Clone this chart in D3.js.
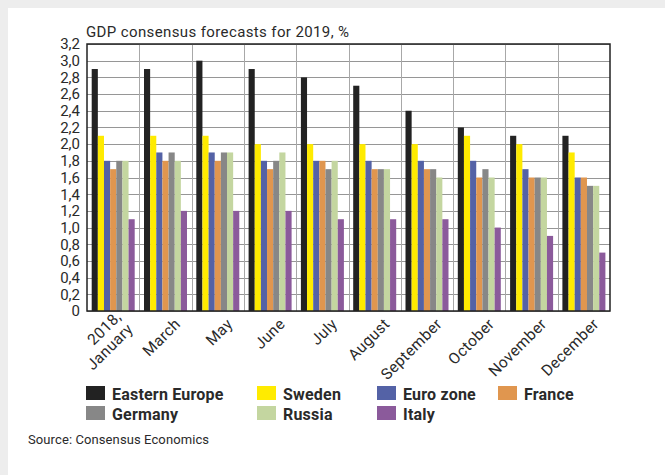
<!DOCTYPE html>
<html>
<head>
<meta charset="utf-8">
<script src="https://cdn.jsdelivr.net/npm/d3@7"></script>
<style>
  body { margin: 0; background: #ededed; }
  svg { display: block; }
  text { font-family: Roboto, "DejaVu Sans", sans-serif; fill: #2a2a2a; }
</style>
</head>
<body>
<svg id="chart" width="665" height="475"></svg>
<script>
"use strict";

// data
var categories = [["2018,", "January"], ["March"], ["May"], ["June"], ["July"],
	["August"], ["September"], ["October"], ["November"], ["December"]];
var seriesNames = ["Eastern Europe", "Sweden", "Euro zone", "France", "Germany", "Russia", "Italy"];
var seriesColors = ["#222222", "#ffeb00", "#5462a6", "#e0964f", "#878787", "#c4d6a0", "#8b5a9b"];

var easternEurope = [2.9, 2.9, 3.0, 2.9, 2.8, 2.7, 2.4, 2.2, 2.1, 2.1];
var sweden        = [2.1, 2.1, 2.1, 2.0, 2.0, 2.0, 2.0, 2.1, 2.0, 1.9];
var euroZone      = [1.8, 1.9, 1.9, 1.8, 1.8, 1.8, 1.8, 1.8, 1.7, 1.6];
var france        = [1.7, 1.8, 1.8, 1.7, 1.8, 1.7, 1.7, 1.6, 1.6, 1.6];
var germany       = [1.8, 1.9, 1.9, 1.8, 1.7, 1.7, 1.7, 1.7, 1.6, 1.5];
var russia        = [1.8, 1.8, 1.9, 1.9, 1.8, 1.7, 1.6, 1.6, 1.6, 1.5];
var italy         = [1.1, 1.2, 1.2, 1.2, 1.1, 1.1, 1.1, 1.0, 0.9, 0.7];
var seriesValues = [easternEurope, sweden, euroZone, france, germany, russia, italy];

var yTicks = [0, 0.2, 0.4, 0.6, 0.8, 1.0, 1.2, 1.4, 1.6, 1.8, 2.0, 2.2, 2.4, 2.6, 2.8, 3.0, 3.2];

var plotL = 87, plotR = 610, plotT = 44, plotB = 311;

var svg = d3.select("#chart");

// white panel on grey page
svg.append("rect").attr("x", 8).attr("y", 8).attr("width", 657).attr("height", 467).attr("fill", "#fff");

var x0 = d3.scaleBand().domain(d3.range(categories.length)).range([plotL, plotR]);
var x1 = d3.scaleBand().domain(d3.range(seriesNames.length)).range([4.7, x0.bandwidth() - 4.6]);
var y = d3.scaleLinear().domain([0, 3.2]).range([plotB, plotT]);

// grid
var grid = svg.append("g");
grid.selectAll(".hl").data(yTicks).enter().append("line")
	.attr("x1", plotL).attr("x2", plotR)
	.attr("y1", function(d){ return Math.round(y(d)) + 0.5; })
	.attr("y2", function(d){ return Math.round(y(d)) + 0.5; })
	.attr("stroke", "#969696").attr("stroke-width", 1);
grid.selectAll(".vl").data(d3.range(1, categories.length)).enter().append("line")
	.attr("x1", function(d){ return Math.round(x0(d)) + 0.5; })
	.attr("x2", function(d){ return Math.round(x0(d)) + 0.5; })
	.attr("y1", plotT).attr("y2", plotB)
	.attr("stroke", "#a8a8a8").attr("stroke-width", 1);

// bars
var groups = svg.selectAll(".grp").data(categories).enter().append("g")
	.attr("transform", function(d, i){ return "translate(" + x0(i) + ",0)"; });
groups.selectAll("rect").data(function(d, i){
		return seriesValues.map(function(s, k){ return {k: k, v: s[i]}; });
	}).enter().append("rect")
	.attr("x", function(d){ return x1(d.k); })
	.attr("width", x1.bandwidth())
	.attr("y", function(d){ return y(d.v); })
	.attr("height", function(d){ return y(0) - y(d.v); })
	.attr("fill", function(d){ return seriesColors[d.k]; });

// frame
svg.append("rect").attr("x", plotL).attr("y", plotT).attr("width", plotR - plotL).attr("height", plotB - plotT)
	.attr("fill", "none").attr("stroke", "#222").attr("stroke-width", 1.5);

// y axis labels
var yAxis = d3.axisLeft(y).tickValues(yTicks).tickSize(0).tickPadding(7)
	.tickFormat(function(d){ return d === 0 ? "0" : d.toFixed(1).replace(".", ","); });
var ya = svg.append("g").attr("transform", "translate(" + plotL + ",0)").call(yAxis);
ya.select(".domain").remove();
ya.selectAll("text").attr("font-size", 15).attr("fill", "#2a2a2a")
	.style("font-family", "Roboto, sans-serif");

// x labels
var xl = svg.selectAll(".xl").data(categories).enter().append("text")
	.attr("text-anchor", "end")
	.attr("font-size", 15.5)
	.attr("letter-spacing", 0.4)
	.attr("transform", function(d, i){
		var cx = x0(i) + x0.bandwidth() / 2 + 16;
		return "translate(" + cx + "," + (plotB + 14) + ") rotate(-45)";
	});
xl.selectAll("tspan").data(function(d){ return d; }).enter().append("tspan")
	.attr("x", 0)
	.attr("dy", function(d, j, nodes){
		if (j === 0) { return nodes.length > 1 ? "-0.65em" : 0; }
		return "1.1em";
	})
	.text(function(d){ return d; });

// title
svg.append("text").attr("x", 86).attr("y", 37).attr("font-size", 15).attr("letter-spacing", 0.38)
	.text("GDP consensus forecasts for 2019, %");

// legend
var legend = svg.append("g");
var colX = [86, 257, 377, 498];
var items = legend.selectAll("g").data(seriesNames).enter().append("g")
	.attr("transform", function(d, i){ return "translate(" + colX[i % 4] + "," + (386 + Math.floor(i / 4) * 20) + ")"; });
items.append("rect").attr("width", 19).attr("height", 14)
	.attr("fill", function(d, i){ return seriesColors[i]; });
items.append("text").attr("x", 26).attr("y", 13.5).attr("font-size", 16).attr("font-weight", "bold")
	.attr("letter-spacing", 0.2)
	.text(function(d){ return d; });

// source
svg.append("text").attr("x", 28).attr("y", 444).attr("font-size", 13).attr("fill", "#444")
	.attr("letter-spacing", 0.1)
	.text("Source: Consensus Economics");
</script>
</body>
</html>
